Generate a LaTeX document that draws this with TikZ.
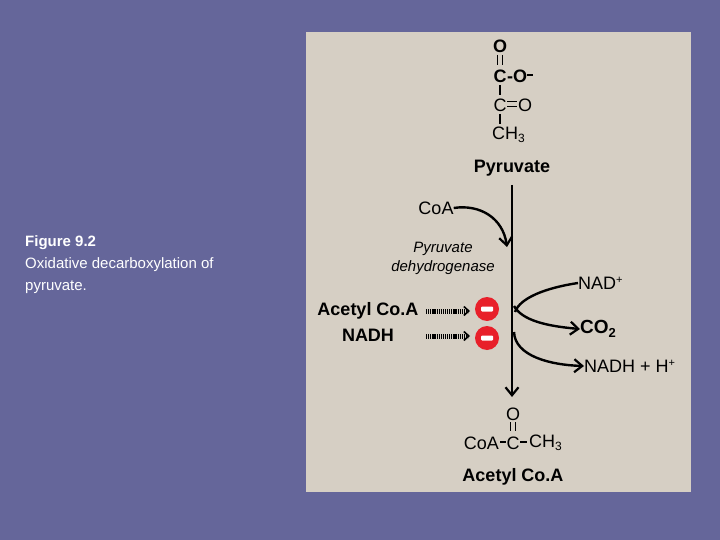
\documentclass[tikz,border=0pt]{standalone}
\usepackage{fontspec}
\setmainfont{Liberation Sans}
\usetikzlibrary{arrows.meta}
\definecolor{bg}{HTML}{65669A}
\definecolor{panel}{HTML}{D6CFC4}
\definecolor{inh}{HTML}{E8202A}
\newcommand{\sbs}[1]{\raisebox{-3.5pt}{\fontsize{12}{12}\selectfont #1}}
\newcommand{\sps}[1]{\raisebox{6pt}{\fontsize{11}{11}\selectfont #1}}
\begin{document}
\begin{tikzpicture}[x=1pt,y=-1pt,
  t/.style={inner sep=0pt,font=\fontsize{18}{18}\selectfont},
  tb/.style={inner sep=0pt,font=\fontsize{18}{18}\selectfont\bfseries},
  bond/.style={line width=1.5pt},
  arr/.style={line width=2.4pt,-{Straight Barb[length=8pt,width=13pt,line width=2.2pt]}},
  dot/.style={line width=5pt,dash pattern=on 1.2pt off 0.9pt,-{Straight Barb[length=5pt,width=9pt,line width=1.6pt]}},
  inhc/.style={circle,fill=inh,minimum size=24pt,inner sep=0pt}]
\fill[bg] (0,0) rectangle (720,540);
\useasboundingbox (0,0) rectangle (720,540);
\fill[panel] (306,32) rectangle (691,492);
% left caption
\node[anchor=west,inner sep=0pt,font=\fontsize{15}{15}\selectfont\bfseries,text=white] (fig) at (25,243) {Figure 9.2};
\node[anchor=west,inner sep=0pt,font=\fontsize{15}{15}\selectfont,text=white] (c1) at (25,265) {Oxidative decarboxylation of};
\node[anchor=west,inner sep=0pt,font=\fontsize{15}{15}\selectfont,text=white] (c2) at (25,287) {pyruvate.};
% pyruvate structure
\node[tb] (o1) at (500,46) {O};
\draw[bond] (497.5,55) -- (497.5,65) (502.5,55) -- (502.5,65);
\node[tb] (c1c) at (500,76) {C};
\node[tb,anchor=west] (om) at (507,76) {-O\raisebox{6pt}{\rule{6pt}{2pt}}};
\draw[bond] (500,85) -- (500,95);
\node[t] (c2c) at (500,105) {C};
\draw[bond] (507,101.5) -- (517,101.5) (507,106.5) -- (517,106.5);
\node[t,anchor=west] (eqo) at (518,105) {O};
\draw[bond] (500,114) -- (500,124);
\node[t,anchor=west] (ch3) at (492,135) {CH\sbs{3}};
\node[tb] (pyr) at (512,168) {Pyruvate};
% main arrow
\coordinate (top) at (512,185);
\coordinate (bot) at (512,397);
\draw[arr] (top) -- (bot);
% CoA
\node[t] (coa) at (436,208) {CoA};
\draw[arr] (coa.east) .. controls (480,204) and (503,218) .. (507,247);
\node[inner sep=0pt,font=\fontsize{15}{15}\selectfont\itshape] (pd1) at (443,249) {Pyruvate};
\node[inner sep=0pt,font=\fontsize{15}{15}\selectfont\itshape] (pd2) at (443,268) {dehydrogenase};
% NAD side
\node[t,anchor=west] (nad) at (578,283) {NAD\sps{+}};
\node[anchor=west,inner sep=0pt,font=\fontsize{19}{19}\selectfont\bfseries] (co2) at (580,329) {CO\raisebox{-4pt}{\fontsize{13}{13}\selectfont\bfseries 2}};
\node[t,anchor=west] (nadh) at (584,366) {NADH + H\sps{+}};
\draw[line width=2.4pt] (nad.west) .. controls (545,288) and (520,298) .. (515,312);
\draw[arr] (514,306) .. controls (522,320) and (545,326) .. (co2.west);
\draw[arr] (514,332) .. controls (515,356) and (550,365) .. (nadh.west);
% inhibitors
\node[tb] (aca) at (368,311) {Acetyl Co.A};
\node[tb] (nadhl) at (368,335) {NADH};
\node[inhc] (i1) at (487,309) {};
\node[inhc] (i2) at (487,338) {};
\fill[white,rounded corners=1pt] (481,306.5) rectangle (493,311.5);
\fill[white,rounded corners=1pt] (481,335.5) rectangle (493,340.5);
\draw[dot] (426,311) -- (470,311);
\draw[dot] (426,336) -- (470,336);
% acetyl CoA structure
\node[t] (o2) at (513,414) {O};
\draw[bond] (510.5,422) -- (510.5,431) (515.5,422) -- (515.5,431);
\node[t] (cc) at (513,443) {C};
\node[t,anchor=east] (coa2) at (499,443) {CoA};
\draw[bond] (500,442) -- (506,442) (520,442) -- (527,442);
\node[t,anchor=west] (ch3b) at (529,443) {CH\sbs{3}};
\node[tb] (acb) at (513,477) {Acetyl Co.A};
\end{tikzpicture}
\end{document}
